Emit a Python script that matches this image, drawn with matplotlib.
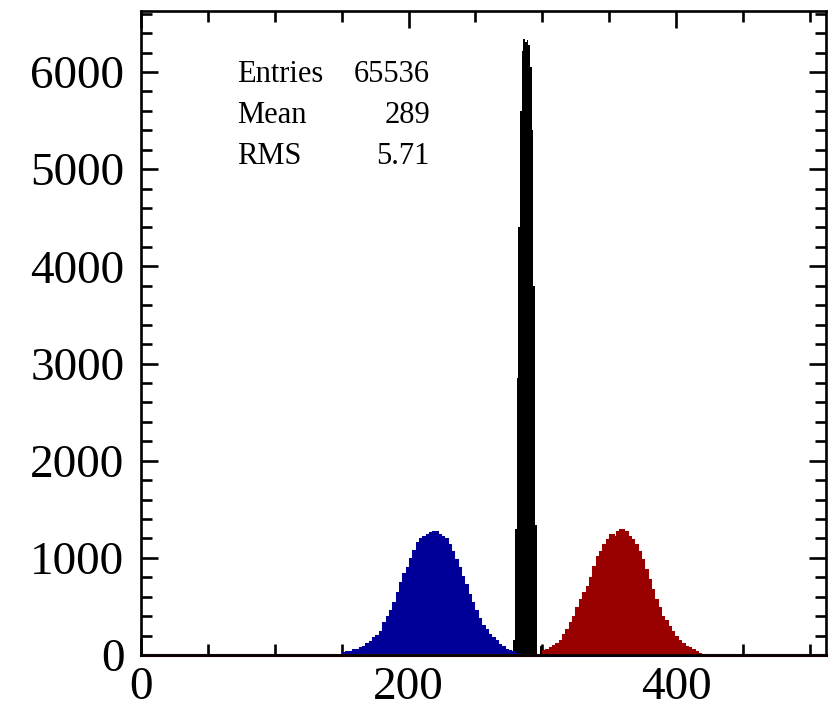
import matplotlib.pyplot as plt
import numpy as np
from matplotlib.ticker import MultipleLocator

# histogram contents (bin contents, fixed bin width)
black_lo, black_width = 278.25, 1.25
black_counts = [150, 1300, 2850, 4400, 5600, 6220, 6340, 6310, 6330, 6280,
                6050, 5400, 3800, 1340, 0, 0, 90]

blue_lo, blue_width = 151.0, 2.5
blue_counts = [25, 30, 35, 50, 55, 75, 85, 110, 130, 170,
               200, 240, 330, 390, 450, 540, 640, 740, 830, 900,
               990, 1070, 1150, 1190, 1210, 1240, 1255, 1270, 1240, 1215,
               1190, 1130, 1060, 980, 900, 800, 720, 620, 540, 450,
               370, 300, 260, 210, 170, 140, 100, 80, 55, 45,
               35, 15]

red_lo, red_width = 300.5, 2.5
red_counts = [40, 55, 70, 90, 110, 145, 205, 260, 325, 395,
              480, 565, 635, 700, 790, 910, 1010, 1060, 1130, 1180,
              1235, 1215, 1270, 1285, 1270, 1215, 1180, 1130, 1060, 980,
              875, 770, 670, 565, 480, 395, 345, 290, 240, 190,
              140, 110, 85, 70, 50, 35, 15]

stats_labels = ["Entries", "Mean", "RMS"]
stats_values = ["65536", "289", "5.71"]

x_min, x_max = 0, 512
y_max = 6628

BLUE = "#000099"
RED = "#990000"
W, H = 834, 711


def step_xy(lo, width, counts):
    """Step outline of a histogram, padded with empty bins to span the axis."""
    counts = np.asarray(counts, dtype=float)
    inner = lo + width * np.arange(len(counts) + 1)
    edges = np.concatenate([[x_min], inner, [x_max]])
    values = np.concatenate([[0.0], counts, [0.0]])
    x = np.repeat(edges, 2)[1:-1]
    y = np.repeat(values, 2)
    return x, y


def draw_hist(ax, lo, width, counts, color, z, outline=True):
    x, y = step_xy(lo, width, counts)
    ax.fill_between(x, y, 0, color=color, lw=0, zorder=z)
    if outline:
        ax.plot(x, y, color=color, lw=2.2, clip_on=False, zorder=z + 0.5,
                solid_joinstyle="miter")


plt.rcParams["font.family"] = ["Liberation Serif", "DejaVu Serif"]

fig = plt.figure(figsize=(W / 100, H / 100), dpi=100)
ax = fig.add_axes([141 / W, 56 / H, (826 - 141) / W, (655 - 11) / H])

draw_hist(ax, black_lo, black_width, black_counts, "black", 2, outline=False)
draw_hist(ax, blue_lo, blue_width, blue_counts, BLUE, 3)
draw_hist(ax, red_lo, red_width, red_counts, RED, 5)

ax.set_xlim(x_min, x_max)
ax.set_ylim(0, y_max)

ax.xaxis.set_major_locator(MultipleLocator(200))
ax.xaxis.set_minor_locator(MultipleLocator(50))
ax.yaxis.set_major_locator(MultipleLocator(1000))
ax.yaxis.set_minor_locator(MultipleLocator(200))

for side in ax.spines.values():
    side.set_linewidth(1.9)
    side.set_zorder(7)

ax.tick_params(which="both", direction="in", top=True, right=True,
               width=1.9, labelsize=34)
ax.tick_params(which="major", length=12)
ax.tick_params(which="minor", length=8)
ax.tick_params(axis="y", which="major", pad=12)
ax.tick_params(axis="x", which="major", pad=8)

# stats box text, no frame
for i, (name, value) in enumerate(zip(stats_labels, stats_values)):
    y = 1 - (74 + 41.5 * i) / H
    fig.text(237 / W, y, name, fontsize=22, ha="left", va="center")
    fig.text(430 / W, y, value, fontsize=22, ha="right", va="center")

plt.savefig("out.png", dpi=100)
plt.close(fig)
